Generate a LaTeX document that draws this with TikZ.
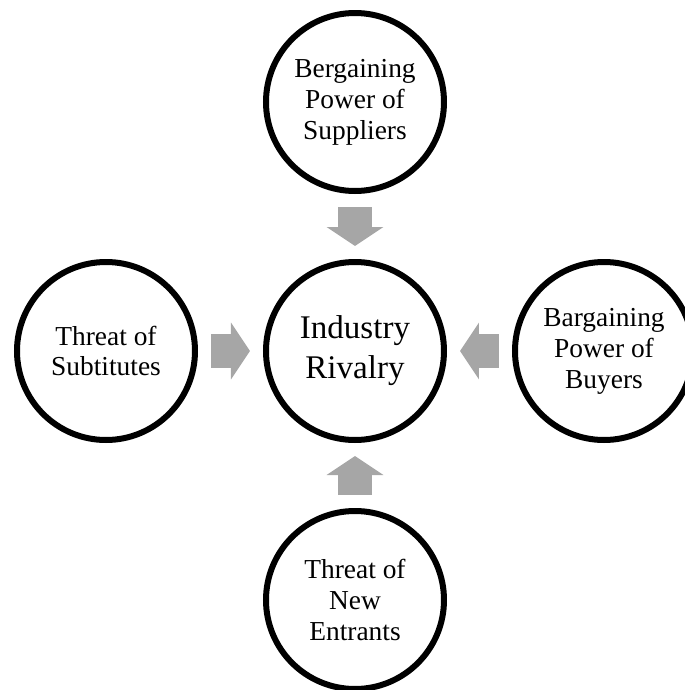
\documentclass[tikz,border=0pt]{standalone}
\usepackage{fontspec}
\setmainfont{Liberation Serif}
\usetikzlibrary{positioning,arrows.meta}
\definecolor{pushgray}{RGB}{166,166,166}

\begin{document}
\begin{tikzpicture}[
	force/.style={circle, draw=black, line width=0.15cm, minimum size=4.45cm, inner sep=0pt, align=center, font=\fontsize{19.5}{22}\selectfont},
	push/.style={draw=pushgray, line width=0.85cm, -{Triangle[length=0.475cm, width=1.4cm]}, shorten <=0.325cm, shorten >=0.325cm},
	node distance=1.625cm]
		%%%%% START %%%%%
		
		\useasboundingbox (-8.875, -8.475) rectangle (8.25, 8.775);
		\clip (-8.875, -8.475) rectangle (8.25, 8.775);
		
		\node[force, font=\fontsize{23.5}{28.5}\selectfont] (rivalry) at (0, 0) {Industry\\Rivalry};
		
		\node[force, above=of rivalry] (suppliers) {Bergaining\\Power of\\Suppliers};
		\node[force, left=of rivalry] (substitutes) {Threat of\\Subtitutes};
		\node[force, right=of rivalry] (buyers) {Bargaining\\Power of\\Buyers};
		\node[force, below=of rivalry] (entrants) {Threat of\\New\\Entrants};
		
		\draw[push] (suppliers) -- (rivalry);
		\draw[push] (substitutes) -- (rivalry);
		\draw[push] (buyers) -- (rivalry);
		\draw[push] (entrants) -- (rivalry);
		
		%%%%% END %%%%%
\end{tikzpicture}
\end{document}
